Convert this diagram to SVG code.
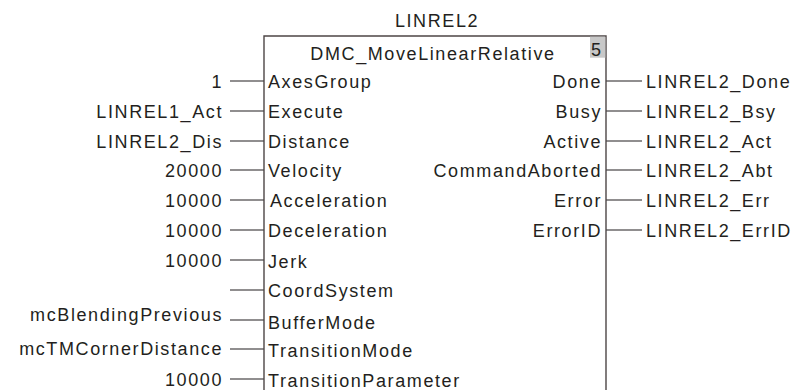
<svg xmlns="http://www.w3.org/2000/svg" width="801" height="390" viewBox="0 0 801 390">
<style>
text{font-family:"Liberation Sans",Arial,sans-serif;font-size:18px;fill:#231f20;letter-spacing:1.6px}
.e{text-anchor:end}
.m{text-anchor:middle}
.w{stroke:#231f20;stroke-width:1.2;fill:none}
.box{stroke:#4d4646;stroke-width:1.4;fill:#fff}
</style>
<rect width="801" height="390" fill="#fff"/>
<g id="connectors">
<path class="w" d="M230 81H264M230 111H264M230 141H264M230 170H264M230 200H264M230 230H264M230 260H264M230 290H264M230 320H264M230 349H264M230 379H264"/>
<path class="w" d="M606 81H642M606 111H642M606 141H642M606 170H642M606 200H642M606 230H642"/>
</g>
<g id="block">
<text class="m" x="437" y="27">LINREL2</text>
<path class="box" d="M264 391V36H606V391"/>
<rect x="590" y="36.7" width="15.3" height="21" fill="#c8c8c8"/>
<text x="591" y="56">5</text>
<text class="m" x="433" y="60">DMC_MoveLinearRelative</text>
<g id="inputs-inside">
<text x="268" y="88">AxesGroup</text>
<text x="268" y="118">Execute</text>
<text x="268" y="148">Distance</text>
<text x="268" y="177">Velocity</text>
<text x="270" y="207">Acceleration</text>
<text x="268" y="237">Deceleration</text>
<text x="268" y="268">Jerk</text>
<text x="268" y="297">CoordSystem</text>
<text x="268" y="329">BufferMode</text>
<text x="268" y="357">TransitionMode</text>
<text x="268" y="387">TransitionParameter</text>
</g>
<g id="outputs-inside">
<text class="e" x="602" y="88">Done</text>
<text class="e" x="602" y="118">Busy</text>
<text class="e" x="602" y="148">Active</text>
<text class="e" x="602" y="177">CommandAborted</text>
<text class="e" x="602" y="207">Error</text>
<text class="e" x="602" y="237">ErrorID</text>
</g>
</g>
<g id="input-values">
<text class="e" x="223" y="88">1</text>
<text class="e" x="223" y="118">LINREL1_Act</text>
<text class="e" x="223" y="148">LINREL2_Dis</text>
<text class="e" x="223" y="177">20000</text>
<text class="e" x="223" y="207">10000</text>
<text class="e" x="223" y="237">10000</text>
<text class="e" x="223" y="267">10000</text>
<text class="e" x="223" y="321">mcBlendingPrevious</text>
<text class="e" x="223" y="355">mcTMCornerDistance</text>
<text class="e" x="223" y="386">10000</text>
</g>
<g id="output-values">
<text x="646" y="88">LINREL2_Done</text>
<text x="646" y="118">LINREL2_Bsy</text>
<text x="646" y="148">LINREL2_Act</text>
<text x="646" y="177">LINREL2_Abt</text>
<text x="646" y="207">LINREL2_Err</text>
<text x="646" y="237">LINREL2_ErrID</text>
</g>
</svg>
